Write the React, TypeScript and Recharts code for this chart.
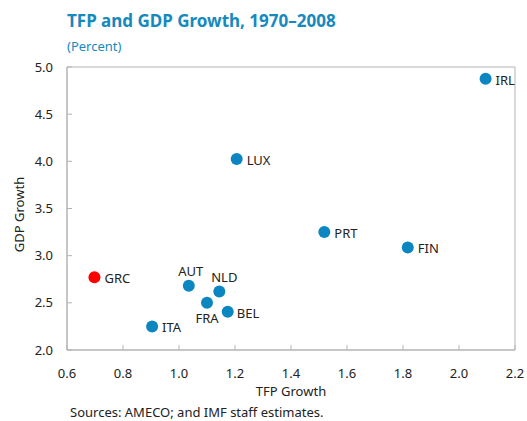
import React from "react";
import {
  LabelList,
  ReferenceArea,
  Scatter,
  ScatterChart,
  XAxis,
  YAxis,
} from "recharts";

const countries = ["IRL", "LUX", "PRT", "FIN", "AUT", "NLD", "FRA", "BEL", "ITA"];
const tfpGrowth = [2.095, 1.206, 1.519, 1.817, 1.035, 1.144, 1.1, 1.174, 0.904];
const gdpGrowth = [4.876, 4.024, 3.25, 3.087, 2.68, 2.62, 2.5, 2.405, 2.25];

const highlightCountry = ["GRC"];
const highlightTfp = [0.698];
const highlightGdp = [2.77];

const xTicks = [0.6, 0.8, 1.0, 1.2, 1.4, 1.6, 1.8, 2.0, 2.2];
const yTicks = [2.0, 2.5, 3.0, 3.5, 4.0, 4.5, 5.0];

const FONT = "'Noto Sans', 'Open Sans', sans-serif";
const BLUE = "#0c86c0";
const RED = "#ff0000";
const AXIS = "#b4b4b4";
const TEXT = "#222";

// where each label sits relative to its dot
const labelPos: Record<string, { dx: number; dy: number; anchor: "start" | "middle" }> = {
  AUT: { dx: 2, dy: -10, anchor: "middle" },
  NLD: { dx: 5, dy: -10, anchor: "middle" },
  FRA: { dx: 0, dy: 20, anchor: "middle" },
  BEL: { dx: 9, dy: 6, anchor: "start" },
};
const defaultPos = { dx: 10, dy: 6, anchor: "start" as const };

const main = countries.map((name, i) => ({ name, tfp: tfpGrowth[i], gdp: gdpGrowth[i] }));
const highlight = highlightCountry.map((name, i) => ({
  name,
  tfp: highlightTfp[i],
  gdp: highlightGdp[i],
}));

const Dot = (color: string) => (props: any) =>
  <circle cx={props.cx} cy={props.cy} r={6} fill={color} />;

const CountryLabel = (props: any) => {
  const { x, y, width, height, value } = props;
  const cx = x + width / 2;
  const cy = y + height / 2;
  const p = labelPos[value] ?? defaultPos;
  return (
    <text
      x={cx + p.dx}
      y={cy + p.dy}
      textAnchor={p.anchor}
      fontSize={13}
      fontFamily={FONT}
      fill={TEXT}
    >
      {value}
    </text>
  );
};

const fmt = (v: number) => v.toFixed(1);

export default function App() {
  return (
    <div style={{ position: "absolute", left: 0, top: 0, width: 527, height: 421, background: "#fff" }}>
      <div
        style={{
          position: "absolute",
          left: 67,
          top: 9,
          fontFamily: FONT,
          fontWeight: 700,
          fontSize: 17,
          color: "#1689bd",
          whiteSpace: "nowrap",
        }}
      >
        TFP and GDP Growth, 1970–2008
      </div>
      <div
        style={{
          position: "absolute",
          left: 67,
          top: 37,
          fontFamily: FONT,
          fontSize: 13,
          color: "#1689bd",
        }}
      >
        (Percent)
      </div>
      <ScatterChart
        width={527}
        height={421}
        margin={{ top: 67, right: 12, bottom: 41, left: 0 }}
        style={{ position: "absolute", left: 0, top: 0 }}
      >
        <XAxis
          type="number"
          dataKey="tfp"
          domain={[0.6, 2.2]}
          ticks={xTicks}
          tickFormatter={fmt}
          allowDataOverflow
          height={30}
          stroke={AXIS}
          tickSize={-5}
          tickMargin={24}
          tick={{ fill: TEXT, fontSize: 13, fontFamily: FONT }}
          label={({ viewBox }: any) => (
            <text
              x={viewBox.x + viewBox.width / 2}
              y={396}
              textAnchor="middle"
              fontSize={13}
              fontFamily={FONT}
              fill={TEXT}
            >
              TFP Growth
            </text>
          )}
        />
        <YAxis
          type="number"
          dataKey="gdp"
          domain={[2, 5]}
          ticks={yTicks}
          tickFormatter={fmt}
          allowDataOverflow
          width={67}
          stroke={AXIS}
          tickSize={-5}
          tickMargin={19}
          tick={{ fill: TEXT, fontSize: 13, fontFamily: FONT }}
          label={({ viewBox }: any) => {
            const cy = viewBox.y + viewBox.height / 2 + 6;
            return (
              <text
                x={24}
                y={cy}
                transform={`rotate(-90 24 ${cy})`}
                textAnchor="middle"
                fontSize={13}
                fontFamily={FONT}
                fill={TEXT}
              >
                GDP Growth
              </text>
            );
          }}
        />
        <ReferenceArea x1={0.6} x2={2.2} y1={2} y2={5} fill="none" stroke={AXIS} strokeWidth={1} />
        <Scatter data={main} fill={BLUE} shape={Dot(BLUE)} isAnimationActive={false}>
          <LabelList dataKey="name" content={CountryLabel} />
        </Scatter>
        <Scatter data={highlight} fill={RED} shape={Dot(RED)} isAnimationActive={false}>
          <LabelList dataKey="name" content={CountryLabel} />
        </Scatter>
      </ScatterChart>
      <div
        style={{
          position: "absolute",
          left: 70,
          top: 403,
          fontFamily: FONT,
          fontSize: 13,
          color: TEXT,
          whiteSpace: "nowrap",
        }}
      >
        Sources: AMECO; and IMF staff estimates.
      </div>
    </div>
  );
}
